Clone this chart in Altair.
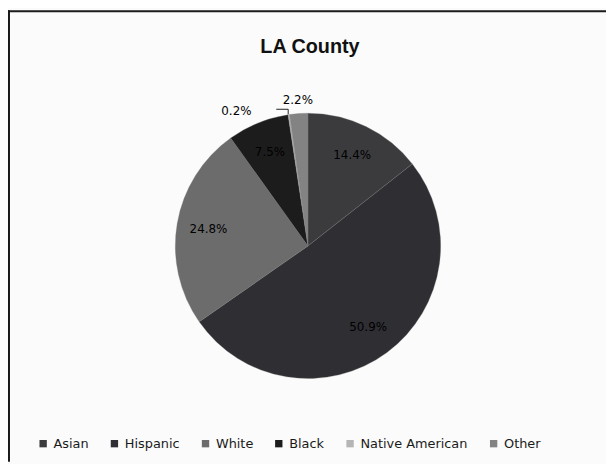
import altair as alt
import pandas as pd

groups = ["Asian", "Hispanic", "White", "Black", "Native American", "Other"]
shares = [14.4, 50.9, 24.8, 7.5, 0.2, 2.2]
labels = ["14.4%", "50.9%", "24.8%", "7.5%", "0.2%", "2.2%"]
colors = ["#3b3b3e", "#2e2e33", "#6c6c6c", "#1c1c1c", "#b5b5b5", "#838383"]
title_text = "LA County"

df = pd.DataFrame({"group": groups, "share": shares, "label": labels, "idx": list(range(len(groups)))})
one = pd.DataFrame({"t": [title_text]})

W, H = 604, 456
CX, CY, R = 303, 238, 134

base = alt.Chart(df).encode(
    theta=alt.Theta("share:Q", stack=True),
    order=alt.Order("idx:Q"),
    x=alt.value(CX),
    y=alt.value(CY),
)

pie = base.mark_arc(radius=R, stroke="#777777", strokeWidth=0.3).encode(
    color=alt.Color(
        "group:N",
        sort=groups,
        scale=alt.Scale(domain=groups, range=colors),
        legend=alt.Legend(
            title=None,
            orient="none",
            legendX=29,
            legendY=431,
            direction="horizontal",
            symbolType="square",
            symbolSize=55,
            symbolStrokeWidth=0,
            labelFont="DejaVu Sans",
            labelFontSize=13,
            labelColor="#1a1a1a",
            labelLimit=0,
            columnPadding=19,
        ),
    )
)

txt = dict(font="DejaVu Sans", fontSize=12, color="#000000")

inner = base.mark_text(radius=102, **txt).encode(
    text="label:N",
    opacity=alt.condition("datum.share >= 5", alt.value(1), alt.value(0)),
)
other_lbl = base.mark_text(radius=148, **txt).encode(
    text="label:N",
    opacity=alt.condition("datum.group == 'Other'", alt.value(1), alt.value(0)),
)
na_lbl = base.mark_text(radius=148, dx=-51, dy=10, **txt).encode(
    text="label:N",
    opacity=alt.condition("datum.group == 'Native American'", alt.value(1), alt.value(0)),
)

lead_h = alt.Chart(one).mark_rule(color="#222222", strokeWidth=1).encode(
    x=alt.value(271), x2=alt.value(283), y=alt.value(100)
)
lead_v = alt.Chart(one).mark_rule(color="#222222", strokeWidth=1).encode(
    x=alt.value(283), y=alt.value(100), y2=alt.value(105)
)

title = alt.Chart(one).mark_text(
    font="Liberation Sans", fontSize=20, fontWeight="bold", color="#111111"
).encode(text="t:N", x=alt.value(305), y=alt.value(37))

frame_l = alt.Chart(one).mark_rule(color="#1a1a1a", strokeWidth=2).encode(
    x=alt.value(1), y=alt.value(0), y2=alt.value(H)
)
frame_t = alt.Chart(one).mark_rule(color="#1a1a1a", strokeWidth=2).encode(
    y=alt.value(1), x=alt.value(0), x2=alt.value(W)
)

chart = alt.layer(
    pie, inner, other_lbl, na_lbl, lead_h, lead_v, title, frame_l, frame_t
).properties(
    width=W, height=H, padding=0, autosize=alt.AutoSizeParams(type="none"), background="#fbfbfb"
).configure_view(stroke=None)

chart.save("out.html", embed_options={"renderer": "svg", "actions": False})
